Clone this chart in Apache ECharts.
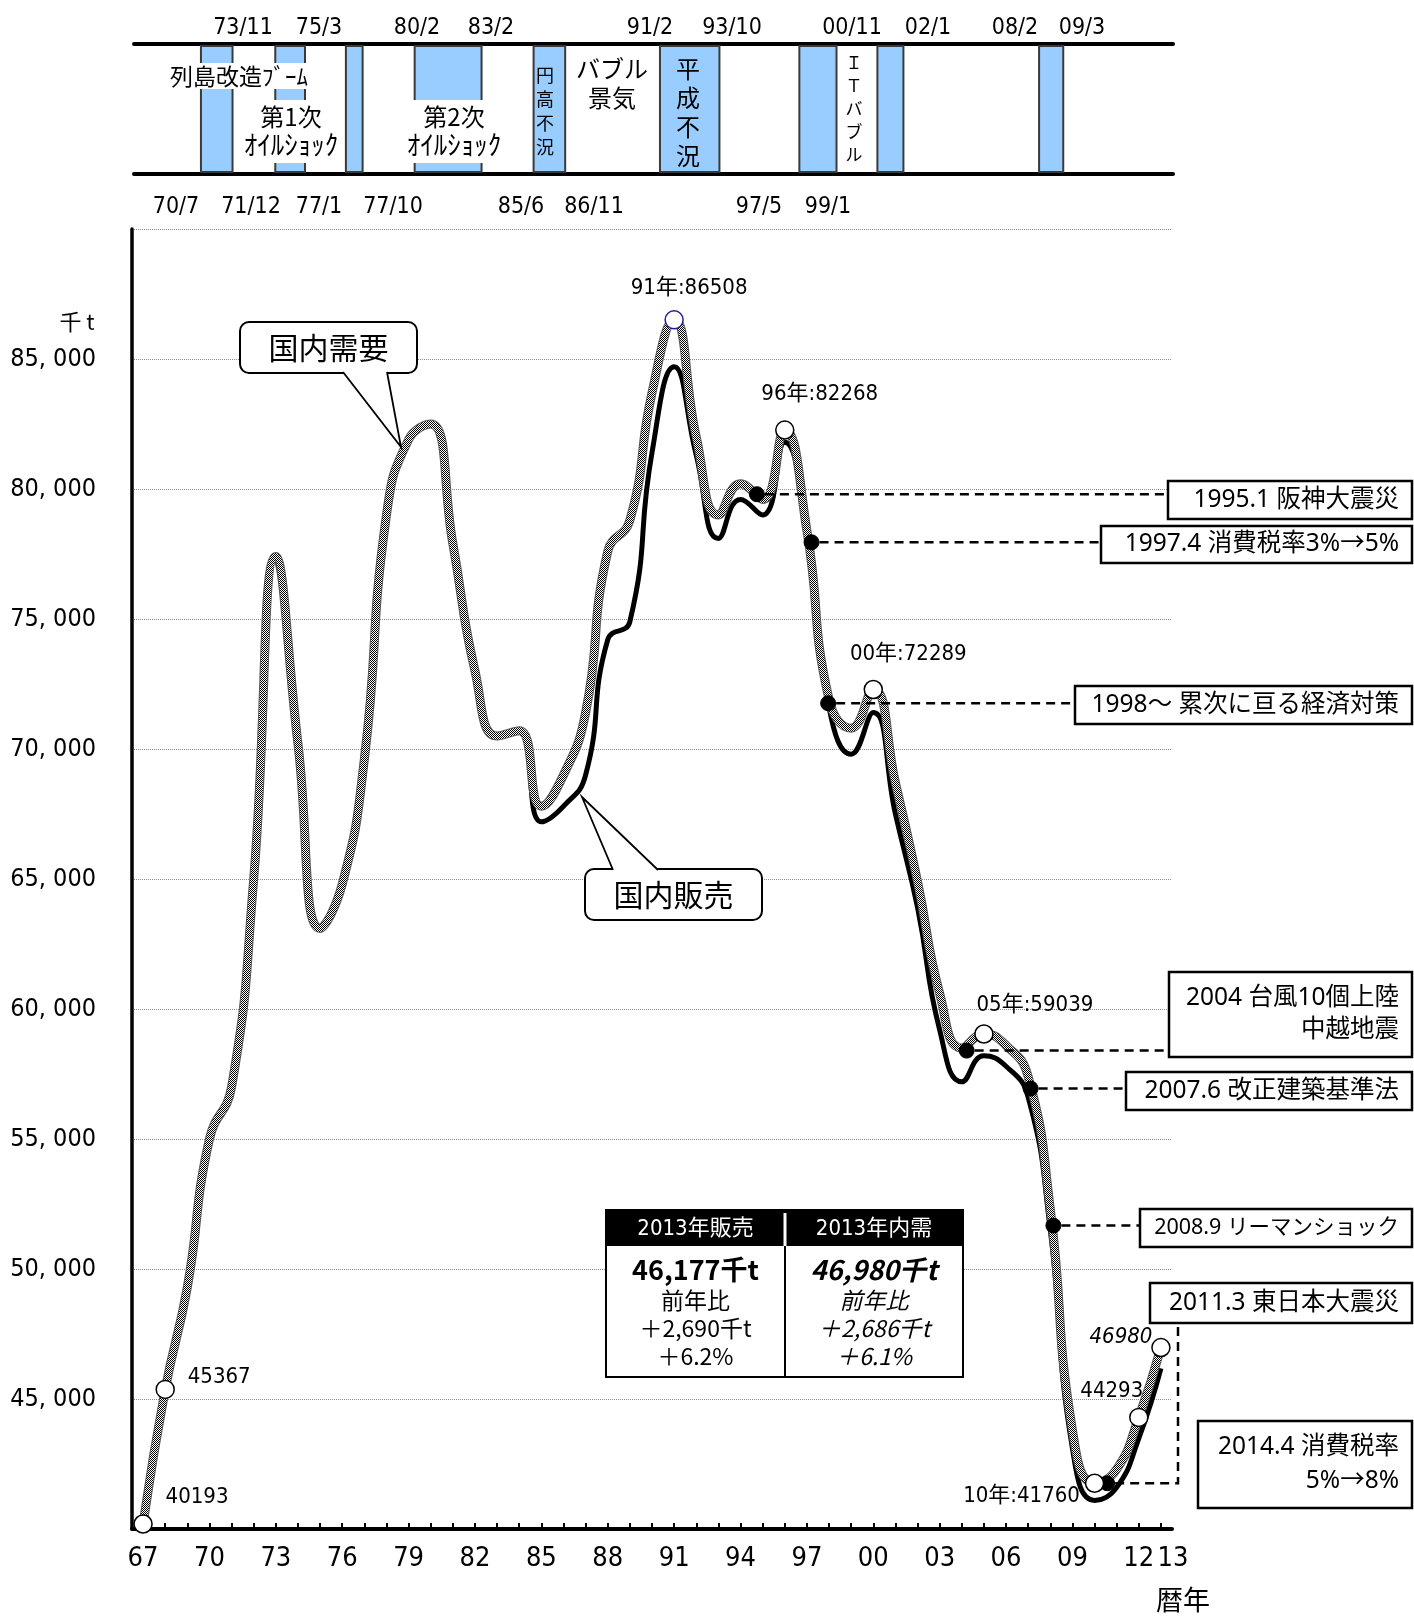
<!DOCTYPE html>
<html><head><meta charset="utf-8">
<script src="https://cdn.jsdelivr.net/npm/echarts@6/dist/echarts.min.js"></script>
<style>html,body{margin:0;padding:0;background:#fff}#c{width:1414px;height:1616px}</style>
</head><body><div id="c"></div>
<script>
// ---------- DATA ----------
const years = [1967,1968,1969,1970,1971,1972,1973,1974,1975,1976,1977,1978,1979,1980,1981,1982,1983,1984,1985,1986,1987,1988,1989,1990,1991,1992,1993,1994,1995,1996,1997,1998,1999,2000,2001,2002,2003,2004,2005,2006,2007,2008,2009,2010,2011,2012,2013];
const demand = [40193,45367,49300,55000,57000,65000,77400,70200,63100,64800,69600,79000,81900,82500,77900,73000,70500,70700,67800,69000,71400,77600,78800,83700,86508,82000,79000,80200,79600,82268,78400,71900,70800,72289,68700,64900,60600,58500,59039,58600,57400,52300,43800,41760,42300,44293,46980];
const sales  = [40193,45367,49300,55000,57000,65000,77400,70200,63100,64800,69600,79000,81900,82500,77900,73000,70500,70700,67200,67800,69000,74200,74900,81400,84700,81300,78100,79600,79000,81800,78300,71600,69800,71400,67500,63900,59200,57200,58200,57800,56600,51500,43100,41100,41600,43487,46177];
const xLabelYears = [1967,1970,1973,1976,1979,1982,1985,1988,1991,1994,1997,2000,2003,2006,2009,2012,2013];
const yLabelValues = [45000,50000,55000,60000,65000,70000,75000,80000,85000];
const highlightYears = [1967,1968,1991,1996,2000,2005,2010,2012,2013];
const highlightLabels = ['40193','45367','91年:86508','96年:82268','00年:72289','05年:59039','10年:41760','44293','46980'];
const eventNames = ['1995.1 阪神大震災','1997.4 消費税率3%→5%','1998〜 累次に亘る経済対策','2004 台風10個上陸\n中越地震','2007.6 改正建築基準法','2008.9 リーマンショック','2011.3 東日本大震災'];
const eventYears = [1994.74,1997.21,1997.96,2004.22,2007.11,2008.14,2010.57];
const eventValues = [79800,77950,71760,58400,56940,51670,41760];
const extraNote = '2014.4 消費税率\n5%→8%';
const recessionStarts = ['70/7','73/11','77/1','80/2','85/6','91/2','97/5','00/11','08/2'];
const recessionEnds   = ['71/12','75/3','77/10','83/2','86/11','93/10','99/1','02/1','09/3'];
const eraNames = ['列島改造ﾌﾞｰﾑ','第1次','ｵｲﾙｼｮｯｸ','第2次','ｵｲﾙｼｮｯｸ','円\n高\n不\n況','バブル\n景気','平\n成\n不\n況','Ｉ\nＴ\nバ\nブ\nル'];
const table = {
  headers: ['2013年販売','2013年内需'],
  sales: ['46,177千t','前年比','＋2,690千t','＋6.2%'],
  demand: ['46,980千t','前年比','＋2,686千t','＋6.1%']
};

// ---------- LAYOUT / STYLE ----------
const NARROW = "'Liberation Sans Narrow','DejaVu Sans Condensed','Noto Sans CJK JP',sans-serif";
const JP = "'Noto Sans CJK JP','Noto Sans',sans-serif";
const BOXF = "'Noto Sans','Noto Sans CJK JP',sans-serif";
const hlOffsets = [[54,-27],[54,-12],[15,-32],[35,-36],[35,-35],[51,-29],[-73,13],[-27,-26],[-40,-10]];
const evBoxes = [[1168,481,519],[1101,526,563],[1075,686,724],[1169,972,1057],[1126,1072,1110],[1140,1209,1247],[1150,1283,1323]];
const evFont = [24.5,24.5,24.5,24.5,24.5,21.5,24.5];
const extraBox = [1198,1421,1508];
const boxRight = 1412;
const topDateX = {'73/11':243,'75/3':319,'80/2':417,'83/2':491,'91/2':650,'93/10':732,'00/11':852,'02/1':928,'08/2':1015,'09/3':1082};
const botDateX = {'70/7':176,'71/12':251,'77/1':319,'77/10':393,'85/6':521,'86/11':594,'97/5':759,'99/1':828};

function toYear(s){const [yy,mm]=s.split('/').map(Number);return (yy<50?2000+yy:1900+yy)+(mm-0.5)/12;}
function checker(){const c=document.createElement('canvas');c.width=2;c.height=2;const g=c.getContext('2d');g.fillStyle='#fff';g.fillRect(0,0,2,2);g.fillStyle='#000';g.fillRect(0,0,1,1);g.fillRect(1,1,1,1);return c;}

const chart = echarts.init(document.getElementById('c'), null, {renderer:'canvas'});
const demandData = years.map((y,i)=>[y,demand[i]]);
const salesData = years.map((y,i)=>[y,sales[i]]);
const hlData = highlightYears.map((y,i)=>{
  const v = demand[years.indexOf(y)];
  return {value:[y,v],
    itemStyle:{borderColor: y===1991?'#1f1f99':'#000'},
    label:{show:true, position:'inside', offset:hlOffsets[i], formatter:highlightLabels[i],
      fontStyle: y===2013?'italic':'normal'}};
});
const evData = eventYears.map((y,i)=>[y,eventValues[i]]);
const bandData = recessionStarts.map((s,i)=>[toYear(s),toYear(recessionEnds[i])]);

const option = {
  animation:false,
  backgroundColor:'#fff',
  grid:[
    {left:132,right:242,top:229,bottom:87,containLabel:false,outerBoundsMode:'none'},
    {left:134,right:241,top:44,height:130,outerBoundsMode:'none'}
  ],
  xAxis:[
    {type:'value',gridIndex:0,min:1966.5,max:2013.5,
     axisLine:{show:true,onZero:false,lineStyle:{color:'#000',width:4}},
     axisTick:{show:true,inside:true,length:6,customValues:years,lineStyle:{color:'#000',width:2}},
     axisLabel:{show:true,customValues:xLabelYears,hideOverlap:false,showMinLabel:true,showMaxLabel:true,
       margin:16,color:'#000',fontSize:27,fontFamily:NARROW,
       formatter:v=> v===2013?'{r|13}':String(v).slice(2),
       rich:{r:{padding:[0,0,0,24],fontSize:27,fontFamily:NARROW,color:'#000'}}},
     splitLine:{show:false}},
    {type:'value',gridIndex:1,position:'top',min:1967.54,max:2014.13,
     axisLine:{show:true,onZero:false,lineStyle:{color:'#000',width:4}},axisTick:{show:false},axisLabel:{show:false},splitLine:{show:false}},
    {type:'value',gridIndex:1,position:'bottom',min:1967.54,max:2014.13,
     axisLine:{show:true,onZero:false,lineStyle:{color:'#000',width:4}},axisTick:{show:false},axisLabel:{show:false},splitLine:{show:false}}
  ],
  yAxis:[
    {type:'value',gridIndex:0,min:40000,max:90000,interval:5000,
     axisLine:{show:true,onZero:false,lineStyle:{color:'#000',width:3.5}},axisTick:{show:false},
     axisLabel:{margin:36,color:'#000',fontSize:25,fontFamily:NARROW,hideOverlap:false,
       formatter:v=> yLabelValues.includes(v)? (v/1000)+', 000' : ''},
     splitLine:{show:true,lineStyle:{color:'#8a8a8a',width:1,type:'dotted'}}},
    {type:'value',gridIndex:1,min:0,max:1,show:false}
  ],
  series:[
    {type:'custom',xAxisIndex:1,yAxisIndex:1,data:bandData,encode:{x:[0,1]},z:1,
     renderItem:(params,api)=>{
       const p0=api.coord([api.value(0),1]), p1=api.coord([api.value(1),0]);
       return {type:'rect',shape:{x:p0[0],y:p0[1]+2,width:p1[0]-p0[0],height:p1[1]-p0[1]-4},
         style:{fill:'#99CCFF',stroke:'#3a3a3a',lineWidth:2}};
     }},
    {type:'line',name:'国内販売',data:salesData,smooth:0.5,symbol:'none',z:2,
     lineStyle:{color:'#000',width:5}},
    {type:'line',name:'国内需要枠',data:demandData,smooth:0.5,symbol:'none',z:3,
     lineStyle:{color:'#5a5a5a',width:9}},
    {type:'line',name:'国内需要',data:demandData,smooth:0.5,symbol:'none',z:4,
     lineStyle:{color:{image:checker(),repeat:'repeat'},width:7}},
    {type:'scatter',data:evData,symbol:'circle',symbolSize:15,z:6,clip:false,
     itemStyle:{color:'#000',borderColor:'#000',borderWidth:1,opacity:1}},
    {type:'scatter',data:hlData,symbol:'circle',symbolSize:18,z:7,clip:false,
     itemStyle:{color:'#fff',borderColor:'#000',borderWidth:1.5,opacity:1},
     label:{color:'#000',fontSize:22,fontFamily:NARROW,align:'center',verticalAlign:'middle'}}
  ]
};
chart.setOption(option);

// ---------- ANNOTATIONS ----------
const px = (x,y)=>chart.convertToPixel({gridIndex:0},[x,y]);
const G = [];
const Z = 50;
function text(x,y,t,opt){G.push({type:'text',x:x,y:y,z:Z+2,style:Object.assign({text:t,fill:'#000',align:'center',verticalAlign:'middle'},opt||{})});}
function rect(x,y,w,h,st,r){G.push({type:'rect',z:Z,shape:{x:x,y:y,width:w,height:h,r:r||0},style:st});}

Object.keys(topDateX).forEach(k=>text(topDateX[k],28,k,{font:"23px "+NARROW}));
Object.keys(botDateX).forEach(k=>text(botDateX[k],207,k,{font:"23px "+NARROW}));
rect(158,63,161,26,{fill:'#fff'});
rect(237,100,104,63,{fill:'#fff'});
rect(404,100,100,63,{fill:'#fff'});
text(239,76,eraNames[0],{font:"23px "+JP});
text(291,117,eraNames[1],{font:"24px "+JP});
text(291,145,eraNames[2],{font:"27px "+JP});
text(454,117,eraNames[3],{font:"24px "+JP});
text(454,145,eraNames[4],{font:"27px "+JP});
text(545,111,eraNames[5],{font:"18px "+JP,lineHeight:24});
text(612,83,eraNames[6],{font:"24px "+JP,lineHeight:29});
text(688,112,eraNames[7],{font:"24px "+JP,lineHeight:29});
text(854,109,eraNames[8],{font:"17px "+JP,lineHeight:23});

text(77,322,'千 t',{font:"22px "+JP});
text(1183,1600,'暦年',{font:"27px "+JP});

function callout(box,base1,base2,tip,label){
  rect(box[0],box[1],box[2]-box[0],box[3]-box[1],{fill:'#fff',stroke:'#000',lineWidth:2},9);
  G.push({type:'polygon',z:Z+1,shape:{points:[base1,tip,base2]},style:{fill:'#fff'}});
  G.push({type:'polyline',z:Z+1,shape:{points:[base1,tip,base2]},style:{stroke:'#000',lineWidth:1.8,fill:null}});
  text((box[0]+box[2])/2,(box[1]+box[3])/2,label,{font:"30px "+JP});
}
callout([240,322,417,373],[343,372],[387,372],[401,447],'国内需要');
callout([585,869,762,920],[613,870],[658,870],[582,797],'国内販売');

const T={l:606,r:963,t:1210,hb:1246,b:1377,m:785};
rect(T.l,T.t,T.r-T.l,T.b-T.t,{fill:'#fff',stroke:'#000',lineWidth:2});
rect(T.l,T.t,T.r-T.l,T.hb-T.t,{fill:'#000'});
G.push({type:'line',z:Z+1,shape:{x1:T.m,y1:T.t+3,x2:T.m,y2:T.hb},style:{stroke:'#fff',lineWidth:3}});
G.push({type:'line',z:Z+1,shape:{x1:T.m,y1:T.hb,x2:T.m,y2:T.b},style:{stroke:'#000',lineWidth:2}});
const lc=(T.l+T.m)/2, rc=(T.m+T.r)/2;
text(lc,1229,table.headers[0],{font:"22px "+NARROW,fill:'#fff'});
text(rc,1229,table.headers[1],{font:"22px "+NARROW,fill:'#fff'});
const rowsY=[1270,1300,1328,1356];
table.sales.forEach((s,i)=>text(lc,rowsY[i],s,{font:(i===0?"bold 27px ":"23px ")+JP}));
table.demand.forEach((s,i)=>text(rc,rowsY[i],s,{font:(i===0?"italic bold 27px ":"italic 23px ")+JP}));

const dash={stroke:'#000',lineWidth:2.5,lineDash:[9,6],fill:null};
eventNames.forEach((name,i)=>{
  const b=evBoxes[i];
  rect(b[0],b[1],boxRight-b[0],b[2]-b[1],{fill:'#fff',stroke:'#000',lineWidth:2.5});
  const mid=(b[1]+b[2])/2;
  text(boxRight-13,mid,name,{font:evFont[i]+"px "+BOXF,align:'right',lineHeight:32});
  const p=px(eventYears[i],eventValues[i]);
  if(i===6){
    G.push({type:'polyline',z:Z-1,shape:{points:[[p[0]+8,p[1]],[1178,p[1]],[1178,b[2]]]},style:dash});
  } else {
    G.push({type:'line',z:Z-1,shape:{x1:p[0]+8,y1:p[1],x2:b[0],y2:p[1]},style:dash});
  }
});
rect(extraBox[0],extraBox[1],boxRight-extraBox[0],extraBox[2]-extraBox[1],{fill:'#fff',stroke:'#000',lineWidth:2.5});
text(boxRight-13,(extraBox[1]+extraBox[2])/2,extraNote,{font:"24.5px "+BOXF,align:'right',lineHeight:34});

chart.setOption({graphic:{elements:G}});
</script></body></html>
